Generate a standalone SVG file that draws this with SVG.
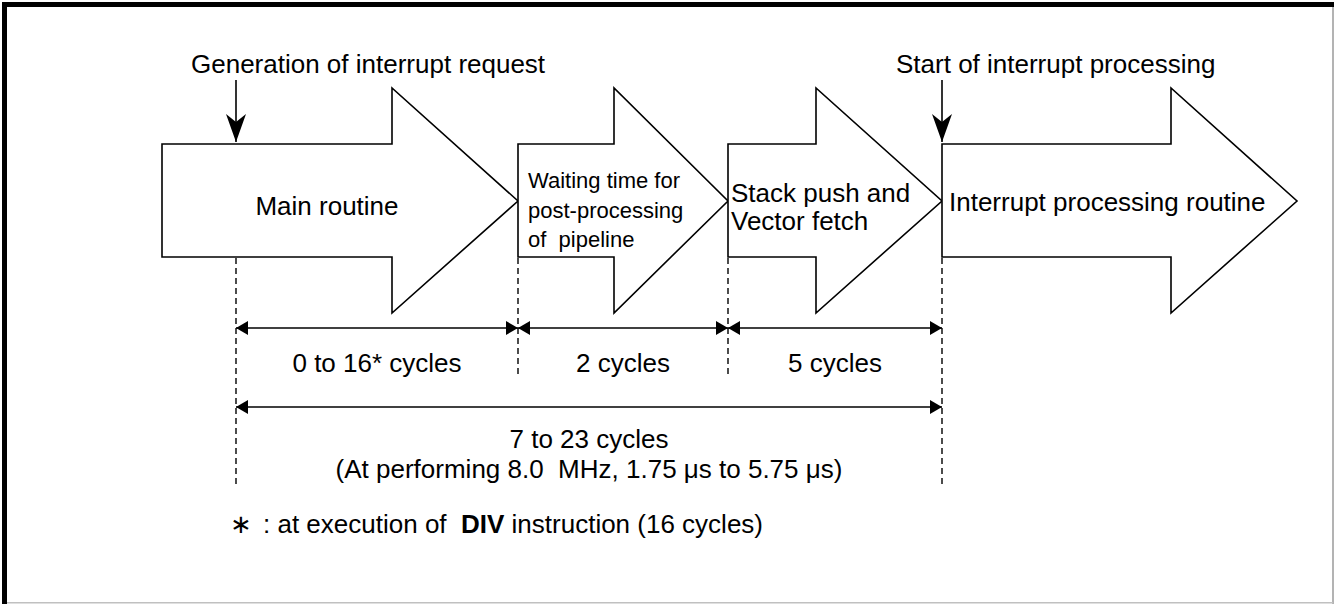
<svg xmlns="http://www.w3.org/2000/svg" width="1334" height="604" viewBox="0 0 1334 604">
<style>
text{font-family:"Liberation Sans",Arial,sans-serif;fill:#000;white-space:pre}
.lbl{font-size:26px}
.sm{font-size:22px}
.blk{fill:#fff;stroke:#000;stroke-width:1.6;stroke-linejoin:miter}
.dash{stroke:#000;stroke-width:1.4;stroke-dasharray:6 4;fill:none}
.dim{stroke:#000;stroke-width:1.6;fill:none}
</style>
<defs>
<marker id="tri" viewBox="0 0 12 14" refX="12" refY="7" markerWidth="12" markerHeight="14" markerUnits="userSpaceOnUse" orient="auto-start-reverse">
<path d="M0,0 L12,7 L0,14 Z" fill="#000"/>
</marker>
<marker id="stealth" viewBox="0 0 28 20" refX="28" refY="10" markerWidth="28" markerHeight="20" markerUnits="userSpaceOnUse" orient="auto">
<path d="M0,0 L28,10 L0,20 L8,10 Z" fill="#000"/>
</marker>
</defs>
<rect x="0" y="0" width="1334" height="604" fill="#fff"/>
<g id="frame">
<rect x="2" y="2" width="1332" height="5" fill="#000"/>
<rect x="2" y="2" width="5" height="602" fill="#000"/>
<line x1="1333" y1="7" x2="1333" y2="604" stroke="#808080" stroke-width="1.2"/>
<line x1="7" y1="602.8" x2="1333" y2="602.8" stroke="#c0c0c0" stroke-width="1.4"/>
</g>
<g id="main-routine">
<polygon class="blk" points="162,144 392,144 392,88 518,201 392,313 392,257 162,257"/>
<text class="lbl" x="327" y="215" text-anchor="middle">Main routine</text>
</g>
<g id="waiting">
<polygon class="blk" points="518,144 614,144 614,88 728,201 614,313 614,257 518,257"/>
<text class="sm" x="528" y="188">Waiting time for</text>
<text class="sm" x="528" y="218">post-processing</text>
<text class="sm" x="528" y="247">of  pipeline</text>
</g>
<g id="stack-push">
<polygon class="blk" points="728,144 816,144 816,88 942,201 816,313 816,257 728,257"/>
<text class="lbl" x="731" y="202">Stack push and</text>
<text class="lbl" x="731" y="230">Vector fetch</text>
</g>
<g id="interrupt-routine">
<polygon class="blk" points="942,144 1171,144 1171,88 1297,201 1171,313 1171,257 942,257"/>
<text class="lbl" x="949" y="211">Interrupt processing routine</text>
</g>
<g id="gen-label">
<text class="lbl" x="191" y="73">Generation of interrupt request</text>
</g>
<g id="start-label">
<text class="lbl" x="896" y="73">Start of interrupt processing</text>
</g>
<g id="connectors">
<line class="dim" x1="236" y1="80" x2="236" y2="142" marker-end="url(#stealth)"/>
<line class="dim" x1="942" y1="80" x2="942" y2="142" marker-end="url(#stealth)"/>
<line class="dash" x1="236" y1="258" x2="236" y2="484"/>
<line class="dash" x1="518" y1="258" x2="518" y2="378"/>
<line class="dash" x1="728" y1="258" x2="728" y2="378"/>
<line class="dash" x1="942" y1="258" x2="942" y2="484"/>
<line class="dim" x1="236" y1="328" x2="518" y2="328" marker-start="url(#tri)" marker-end="url(#tri)"/>
<line class="dim" x1="518" y1="328" x2="728" y2="328" marker-start="url(#tri)" marker-end="url(#tri)"/>
<line class="dim" x1="728" y1="328" x2="942" y2="328" marker-start="url(#tri)" marker-end="url(#tri)"/>
<line class="dim" x1="236" y1="407" x2="942" y2="407" marker-start="url(#tri)" marker-end="url(#tri)"/>
</g>
<g id="dim-labels">
<text class="lbl" x="377" y="372" text-anchor="middle">0 to 16* cycles</text>
<text class="lbl" x="623" y="372" text-anchor="middle">2 cycles</text>
<text class="lbl" x="835" y="372" text-anchor="middle">5 cycles</text>
<text class="lbl" x="589" y="448" text-anchor="middle">7 to 23 cycles</text>
<text class="lbl" x="589" y="478" text-anchor="middle">(At performing 8.0  MHz, 1.75 μs to 5.75 μs)</text>
</g>
<g id="footnote">
<text class="lbl" x="241" y="533" text-anchor="middle" style="font-family:'DejaVu Sans',sans-serif">∗</text>
<text class="lbl" x="263" y="533">: at execution of  <tspan font-weight="bold">DIV</tspan> instruction (16 cycles)</text>
</g>
</svg>
